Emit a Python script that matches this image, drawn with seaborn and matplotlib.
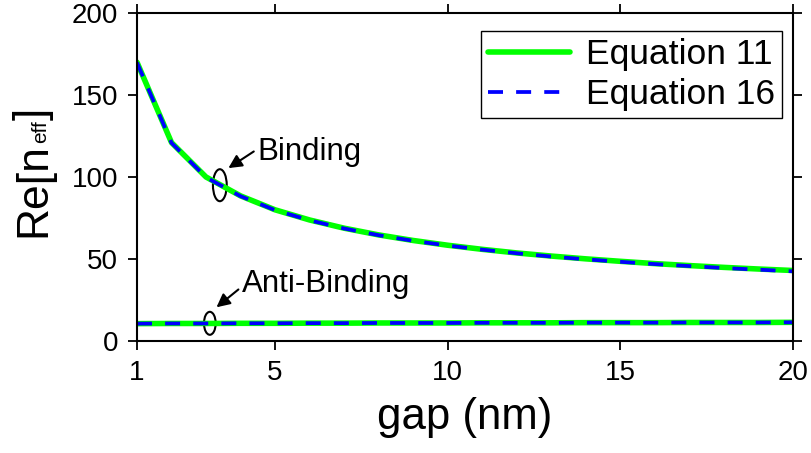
import numpy as np
import pandas as pd
import seaborn as sns
import matplotlib.pyplot as plt
from matplotlib.patches import Ellipse

# gap values (nm) and Re[n_eff]
gap = [1, 2, 3, 4, 5, 6, 7, 8, 9, 10, 11, 12, 13, 14, 15, 16, 17, 18, 19, 20]
binding_eq11 = [170.0, 121.0, 100.0, 88.5, 80.0, 73.8, 68.8, 64.7, 61.3, 58.4,
                55.9, 53.7, 51.8, 50.1, 48.6, 47.2, 46.0, 44.9, 43.9, 43.0]
binding_eq16 = [169.8, 120.8, 99.8, 88.3, 79.8, 73.6, 68.6, 64.5, 61.1, 58.2,
                55.7, 53.5, 51.5, 49.8, 48.3, 46.9, 45.7, 44.5, 43.5, 42.5]
anti_eq11 = [10.6, 10.7, 10.7, 10.8, 10.8, 10.9, 10.9, 11.0, 11.0, 11.0,
             11.1, 11.1, 11.1, 11.2, 11.2, 11.2, 11.3, 11.3, 11.3, 11.4]
anti_eq16 = [10.6, 10.7, 10.7, 10.8, 10.8, 10.9, 10.9, 11.0, 11.0, 11.0,
             11.1, 11.1, 11.1, 11.2, 11.2, 11.2, 11.3, 11.3, 11.3, 11.4]

x_ticks = [1, 5, 10, 15, 20]
y_ticks = [0, 50, 100, 150, 200]


# Rotated y label "Re[n_eff]" built from pieces so the subscript can be small.
def draw_ylabel(fig, x_px, y_px, pieces):
    renderer = fig.canvas.get_renderer()
    W, H = fig.bbox.width, fig.bbox.height
    y = y_px
    for txt, size, shift in pieces:
        t = fig.text((x_px + shift) / W, 1 - y / H, txt, fontsize=size, rotation=90,
                     rotation_mode='anchor', ha='left', va='baseline', color='black')
        bb = t.get_window_extent(renderer)
        y -= bb.height


def main():
    sns.set_style('ticks')
    plt.rcParams['font.family'] = ['Liberation Sans', 'DejaVu Sans']
    plt.rcParams['text.color'] = 'black'
    plt.rcParams['axes.labelcolor'] = 'black'

    fig = plt.figure(figsize=(8.11, 4.53), dpi=100)
    ax = fig.add_axes([0.1689, 0.2472, 0.8089, 0.7241])

    green = '#00ff00'
    blue = '#0000ff'

    # Solid green = Equation 11, dashed blue = Equation 16.
    sns.lineplot(x=gap, y=binding_eq11, color=green, lw=4, ax=ax, label='Equation 11')
    sns.lineplot(x=gap, y=anti_eq11, color=green, lw=4, ax=ax)
    sns.lineplot(x=gap, y=binding_eq16, color=blue, lw=2.7, ax=ax, label='Equation 16')
    sns.lineplot(x=gap, y=anti_eq16, color=blue, lw=2.7, ax=ax)
    for line in ax.lines[2:]:
        line.set_dashes([4, 3.5])

    ax.set_xlim(1, 20)
    ax.set_ylim(0, 200)
    ax.set_xticks(x_ticks)
    ax.set_yticks(y_ticks)
    ax.tick_params(direction='out', length=6.5, width=1.3, labelsize=20,
                   top=True, right=True, colors='black')
    ax.tick_params(axis='x', pad=7)
    ax.tick_params(axis='y', pad=7)
    for spine in ax.spines.values():
        spine.set_linewidth(1.5)
        spine.set_color('black')

    ax.set_xlabel('gap (nm)', fontsize=31.5, labelpad=8)

    # Annotations with small ellipses.
    ax.add_patch(Ellipse((3.40, 95.0), 0.40, 19.5, fill=False, lw=1.5, color='black'))
    ax.add_patch(Ellipse((3.11, 10.8), 0.34, 14.0, fill=False, lw=1.5, color='black'))
    ax.annotate('', xy=(3.58, 104.5), xytext=(4.45, 116.5),
                arrowprops=dict(arrowstyle='-|>', color='black', lw=1.5, mutation_scale=20))
    ax.annotate('', xy=(3.24, 19.5), xytext=(4.00, 32.5),
                arrowprops=dict(arrowstyle='-|>', color='black', lw=1.5, mutation_scale=20))
    ax.text(4.50, 115.5, 'Binding', fontsize=22.5, ha='left', va='center')
    ax.text(4.03, 34.5, 'Anti-Binding', fontsize=22.5, ha='left', va='center')

    leg = ax.legend(loc='upper right', bbox_to_anchor=(0.983, 0.945), borderaxespad=0,
                    fontsize=25.5, frameon=True, fancybox=False, framealpha=1,
                    handlelength=2.3, handletextpad=0.45, borderpad=0.2, labelspacing=0.2)
    leg.get_frame().set_edgecolor('black')
    leg.get_frame().set_linewidth(1.0)
    for t in leg.get_texts():
        t.set_color('black')

    draw_ylabel(fig, 45, 237, [('Re[n', 32, 0), ('eff', 15, 1), (']', 32, 0)])

    fig.savefig('out.png', dpi=100)


if __name__ == '__main__':
    main()
